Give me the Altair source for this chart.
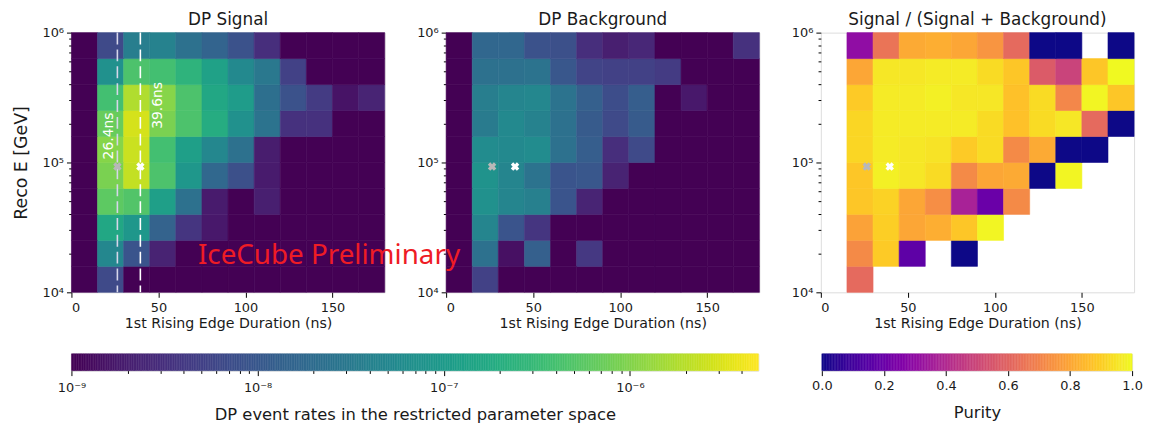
import altair as alt
import pandas as pd
import numpy as np

# ---------------- data ----------------
x_edges = [0, 15, 30, 45, 60, 75, 90, 105, 120, 135, 150, 165, 180]
y_edges = [1.0e4, 1.585e4, 2.512e4, 3.981e4, 6.310e4, 1.0e5,
           1.585e5, 2.512e5, 3.981e5, 6.310e5, 1.0e6]

# rows: lowest energy bin first; columns: 0 ns .. 180 ns
signal = [
    [0, 6.5e-9, 0, 0, 0, 0, 0, 0, 0, 0, 0, 0],
    [0, 5.0e-8, 9.1e-9, 2.2e-9, 0, 0, 0, 0, 0, 0, 0, 0],
    [0, 1.6e-7, 9.0e-8, 1.4e-8, 3.6e-9, 1.7e-9, 0, 0, 0, 0, 0, 0],
    [0, 5.9e-7, 4.9e-7, 1.2e-7, 2.3e-8, 1.8e-9, 0, 2.0e-9, 0, 0, 0, 0],
    [0, 9.0e-7, 2.3e-6, 4.5e-7, 9.0e-8, 1.7e-8, 7.7e-9, 1.8e-9, 0, 0, 0, 0],
    [0, 1.06e-6, 2.5e-6, 3.8e-7, 1.2e-7, 5.0e-8, 2.3e-8, 1.9e-9, 0, 0, 0, 0],
    [0, 6.9e-7, 2.9e-6, 9.0e-7, 4.5e-7, 1.9e-7, 7.0e-8, 2.5e-8, 3.3e-9, 3.3e-9, 0, 0],
    [0, 3.8e-7, 1.8e-6, 1.06e-6, 4.5e-7, 1.6e-7, 1.07e-7, 2.2e-8, 8.4e-9, 4.2e-9, 1.5e-9, 2.3e-9],
    [0, 7.0e-8, 4.5e-7, 3.8e-7, 2.5e-7, 1.3e-7, 5.4e-8, 3.0e-8, 5.0e-9, 0, 0, 0],
    [0, 6.5e-9, 3.6e-8, 4.2e-8, 2.3e-8, 1.5e-8, 8.4e-9, 3.0e-9, 0, 0, 0, 0],
]

background = [
    [0, 5.0e-9, 0, 0, 0, 0, 0, 0, 0, 0, 0, 0],
    [0, 2.3e-8, 1.4e-9, 1.3e-8, 0, 3.9e-9, 0, 0, 0, 0, 0, 0],
    [0, 4.6e-8, 9.1e-9, 3.6e-9, 0, 0, 0, 0, 0, 0, 0, 0],
    [0, 7.0e-8, 4.6e-8, 3.9e-8, 9.1e-9, 2.3e-9, 0, 0, 0, 0, 0, 0],
    [0, 7.6e-8, 4.6e-8, 2.5e-8, 9.1e-9, 9.9e-9, 2.2e-9, 0, 0, 0, 0, 0],
    [0, 5.9e-8, 5.4e-8, 5.9e-8, 2.3e-8, 1.2e-8, 3.0e-9, 6.5e-9, 0, 0, 0, 0],
    [0, 3.3e-8, 5.4e-8, 4.2e-8, 2.3e-8, 1.1e-8, 6.5e-9, 1.1e-8, 0, 0, 0, 0],
    [0, 3.6e-8, 4.6e-8, 5.0e-8, 2.5e-8, 1.3e-8, 7.1e-9, 1.2e-8, 0, 1.7e-9, 0, 0],
    [0, 2.3e-8, 2.3e-8, 2.5e-8, 9.9e-9, 5.5e-9, 5.0e-9, 5.0e-9, 4.2e-9, 0, 0, 0],
    [0, 1.65e-8, 1.65e-8, 8.4e-9, 7.7e-9, 3.0e-9, 2.0e-9, 2.5e-9, 0, 0, 0, 3.3e-9],
]

N = None
purity = [
    [N, 0.62, N, N, N, N, N, N, N, N, N, N],
    [N, 0.72, 0.89, 0.17, N, 0.0, N, N, N, N, N, N],
    [N, 0.79, 0.90, 0.80, 0.82, 0.88, 0.99, N, N, N, N, N],
    [N, 0.88, 0.91, 0.80, 0.73, 0.37, 0.20, 0.72, N, N, N, N],
    [N, 0.88, 0.98, 0.96, 0.93, 0.72, 0.80, 0.81, 0.0, 0.99, N, N],
    [N, 0.92, 0.97, 0.96, 0.95, 0.89, 0.93, 0.72, 0.81, 0.0, 0.0, N],
    [N, 0.92, 0.97, 0.97, 0.97, 0.97, 0.93, 0.87, 0.93, 0.96, 0.62, 0.0],
    [N, 0.89, 0.97, 0.97, 0.98, 0.96, 0.96, 0.87, 0.93, 0.71, 0.99, 0.88],
    [N, 0.80, 0.96, 0.96, 0.97, 0.97, 0.93, 0.88, 0.57, 0.49, 0.88, 1.0],
    [N, 0.30, 0.65, 0.81, 0.82, 0.80, 0.75, 0.62, 0.0, 0.0, N, 0.0],
]

cut_x = [26.4, 39.6]
cut_colors = ["#d6d6ea", "#ffffff"]
cut_text = ["26.4ns", "39.6ns"]
cut_text_x = [21.5, 49.5]
cut_text_y = [1.6e5, 2.75e5]
marker_x = [26.4, 39.6]
marker_y = [9.3e4, 9.3e4]
marker_colors = ["#b8b8b8", "#ffffff"]
watermark = "IceCube Preliminary"
watermark_x = [8.0]
watermark_y = [1.66e4]

rate_min, rate_max = 1e-9, 4.9e-6

# ---------------- helpers ----------------
FONT = "DejaVu Sans"
TXT = "#1a1a1a"
TICK_MAJOR, TICK_MINOR = 5, 2.8


def grid_df(rows, floor=None):
    recs = []
    for i, row in enumerate(rows):
        for j, v in enumerate(row):
            if v is None:
                continue
            c = max(v, floor) if floor is not None else v
            recs.append({"x0": x_edges[j], "x1": x_edges[j + 1],
                         "y0": y_edges[i], "y1": y_edges[i + 1], "c": c})
    return pd.DataFrame(recs)


xscale = alt.Scale(domain=[0, 180], nice=False, zero=False)
yscale = alt.Scale(type="log", domain=[1e4, 1e6], nice=False)
y_ticks = [float(m * 10 ** e) for e in (4, 5) for m in range(1, 10)] + [1e6]

major_y = "indexof([10000, 100000, 1000000], datum.value) >= 0"


def xaxis():
    return alt.Axis(values=[0, 50, 100, 150], title="1st Rising Edge Duration (ns)",
                    labelFontSize=13, titleFontSize=14.3, tickSize=TICK_MAJOR,
                    labelPadding=4, titlePadding=2, domain=False, grid=False,
                    tickColor="black", labelColor=TXT, titleColor=TXT,
                    titleFontWeight="normal", labelFont=FONT, titleFont=FONT)


def yaxis(title):
    kw = dict(values=y_ticks, grid=False, domain=False,
              labelExpr="datum.value == 10000 ? '10⁴' : datum.value == 100000 ? '10⁵' : datum.value == 1000000 ? '10⁶' : ''",
              tickSize={"condition": {"test": major_y, "value": TICK_MAJOR},
                        "value": TICK_MINOR},
              tickColor="black", labelColor=TXT, labelFontSize=13, labelFont=FONT,
              labelPadding=3, labelFlush=False, labelOverlap=False)
    if title:
        kw.update(title=title, titleFontSize=17.5, titleFont=FONT, titleColor=TXT,
                  titleFontWeight="normal", titlePadding=12)
    else:
        kw.update(title=None)
    return alt.Axis(**kw)


rate_scale = alt.Scale(type="log", domain=[rate_min, rate_max], scheme="viridis",
                       clamp=True, nice=False)
purity_scale = alt.Scale(domain=[0, 1], scheme="plasma", nice=False)

W, H = 316, 262
ROW_GAP = 62


def heat(df, cscale, ytitle):
    return alt.Chart(df).mark_rect(strokeWidth=0.6).encode(
        x=alt.X("x0:Q", scale=xscale, axis=xaxis()),
        x2="x1:Q",
        y=alt.Y("y0:Q", scale=yscale, axis=yaxis(ytitle)),
        y2="y1:Q",
        color=alt.Color("c:Q", scale=cscale, legend=None),
        stroke=alt.Stroke("c:Q", scale=cscale, legend=None),
    )


def markers():
    layers = []
    for mx, my, mc in zip(marker_x, marker_y, marker_colors):
        layers.append(alt.Chart(pd.DataFrame({"x": [mx], "y": [my]})).mark_point(
            shape="cross", angle=45, filled=True, size=75, color=mc, opacity=1,
            strokeWidth=0).encode(x="x:Q", y="y:Q"))
    return layers


def titled(t):
    return alt.TitleParams(t, fontSize=17, font=FONT, fontWeight="normal",
                           color=TXT, frame="group", anchor="middle", offset=-2)


# ---- panel 1: signal ----
p1_layers = [heat(grid_df(signal, rate_min), rate_scale, "Reco E [GeV]")]
for cx, cc in zip(cut_x, cut_colors):
    p1_layers.append(alt.Chart(pd.DataFrame({"x": [cx]})).mark_rule(
        color=cc, strokeDash=[12, 5], strokeWidth=1.6).encode(x="x:Q"))
for tx, ty, tt in zip(cut_text_x, cut_text_y, cut_text):
    p1_layers.append(alt.Chart(pd.DataFrame({"x": [tx], "y": [ty], "t": [tt]})).mark_text(
        angle=270, align="center", baseline="middle", fontSize=14, font=FONT,
        color="white").encode(x="x:Q", y="y:Q", text="t:N"))
p1_layers += markers()
p1 = alt.layer(*p1_layers).properties(width=W, height=H, title=titled("DP Signal"))

# ---- panel 2: background ----
p2_layers = [heat(grid_df(background, rate_min), rate_scale, None)]
p2_layers += markers()
p2_layers.append(alt.Chart(pd.DataFrame({"x": watermark_x, "y": watermark_y,
                                         "t": [watermark]})).mark_text(
    align="right", baseline="alphabetic", fontSize=28, font="Noto Sans",
    color="#ee1c25").encode(x="x:Q", y="y:Q", text="t:N"))
p2 = alt.layer(*p2_layers).properties(width=W, height=H, title=titled("DP Background"))

# ---- panel 3: purity ----
p3_layers = [heat(grid_df(purity), purity_scale, None)]
p3_layers += markers()
p3 = alt.layer(*p3_layers).properties(width=W, height=H,
                                      title=titled("Signal / (Signal + Background)"))

# ---------------- colour bars ----------------
cb_edges = np.logspace(np.log10(rate_min), np.log10(rate_max), 401)
cb1_df = pd.DataFrame({"lo": cb_edges[:-1], "hi": cb_edges[1:],
                       "c": np.sqrt(cb_edges[:-1] * cb_edges[1:])})
rate_ticks = [float(m * 10.0 ** e) for e in (-9, -8, -7, -6) for m in range(1, 10)
              if m * 10.0 ** e <= rate_max]
rate_major = ("datum.value > 0.99e-9 && datum.value < 1.01e-9 || "
              "datum.value > 0.99e-8 && datum.value < 1.01e-8 || "
              "datum.value > 0.99e-7 && datum.value < 1.01e-7 || "
              "datum.value > 0.99e-6 && datum.value < 1.01e-6")
cb1 = alt.Chart(cb1_df).mark_rect(strokeWidth=0.5).encode(
    x=alt.X("lo:Q", scale=alt.Scale(type="log", domain=[rate_min, rate_max], nice=False),
            axis=alt.Axis(values=rate_ticks, grid=False, domain=False,
                          labelExpr="(datum.value > 0.99e-9 && datum.value < 1.01e-9) ? '10⁻⁹' : (datum.value > 0.99e-8 && datum.value < 1.01e-8) ? '10⁻⁸' : (datum.value > 0.99e-7 && datum.value < 1.01e-7) ? '10⁻⁷' : (datum.value > 0.99e-6 && datum.value < 1.01e-6) ? '10⁻⁶' : ''",
                          tickSize={"condition": {"test": rate_major, "value": TICK_MAJOR},
                                    "value": TICK_MINOR},
                          tickColor="black", labelColor=TXT, labelFontSize=13,
                          labelFont=FONT, labelPadding=6, labelOverlap=False,
                          labelFlush=False,
                          title="DP event rates in the restricted parameter space",
                          titleFontSize=16.5, titleFont=FONT, titleFontWeight="normal",
                          titleColor=TXT, titlePadding=12)),
    x2="hi:Q",
    color=alt.Color("c:Q", scale=rate_scale, legend=None),
    stroke=alt.Stroke("c:Q", scale=rate_scale, legend=None),
).properties(width=693, height=17)

pu_edges = np.linspace(0, 1, 201)
cb2_df = pd.DataFrame({"lo": pu_edges[:-1], "hi": pu_edges[1:],
                       "c": (pu_edges[:-1] + pu_edges[1:]) / 2})
cb2 = alt.Chart(cb2_df).mark_rect(strokeWidth=0.5).encode(
    x=alt.X("lo:Q", scale=alt.Scale(domain=[0, 1], nice=False, zero=False),
            axis=alt.Axis(values=[0, 0.2, 0.4, 0.6, 0.8, 1.0], format=".1f", grid=False,
                          domain=False, tickSize=TICK_MAJOR, tickColor="black",
                          labelColor=TXT, labelFontSize=13, labelFont=FONT,
                          labelPadding=4, labelFlush=False, labelOverlap=False,
                          title="Purity", titleFontSize=16.5, titleFont=FONT,
                          titleFontWeight="normal", titleColor=TXT, titlePadding=12)),
    x2="hi:Q",
    color=alt.Color("c:Q", scale=purity_scale, legend=None),
    stroke=alt.Stroke("c:Q", scale=purity_scale, legend=None),
).properties(width=313, height=17)

top = alt.hconcat(p1, p2, p3, spacing=62, bounds="flush").resolve_scale(
    color="independent", stroke="independent")
bottom = alt.hconcat(cb1, cb2, spacing=64, bounds="flush").resolve_scale(
    color="independent", stroke="independent", x="independent")

# with flush bounds the nested row counts as zero height, so the gap spans the panel height
chart = alt.vconcat(top, bottom, spacing=H + ROW_GAP, bounds="flush").resolve_scale(
    color="independent", stroke="independent", x="independent").properties(
    padding={"left": 3, "top": 0, "right": 0, "bottom": 0}
).configure_view(stroke="black", strokeWidth=1).configure(
    background="white", font=FONT)

chart.save("out.html", embed_options={"renderer": "svg", "actions": False})
